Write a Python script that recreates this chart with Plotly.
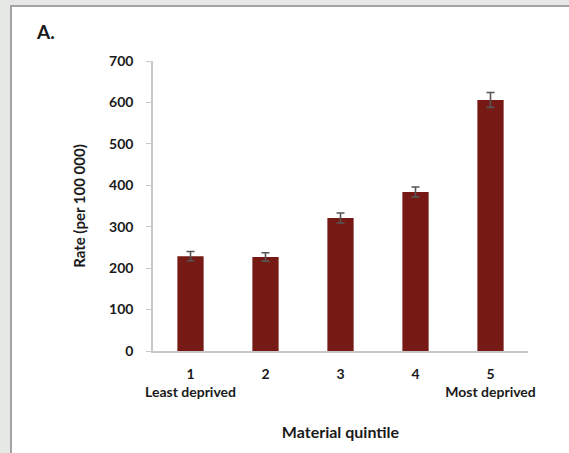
import plotly.graph_objects as go

categories = ["1<br>Least deprived", "2", "3", "4", "5<br>Most deprived"]
rates = [229, 227, 321, 384, 606]
errors = [11, 10, 12, 12, 18]
y_ticks = [0, 100, 200, 300, 400, 500, 600, 700]

W, H = 569, 453
ML, MR, MT, MB = 153, 41, 61, 102
PW, PH = W - ML - MR, H - MT - MB

def px(x):
    return (x - ML) / PW

def py(y):
    return (H - MB - y) / PH

FONT = "Lato, Liberation Sans, Arial"
TXT = "#1a1a1a"

fig = go.Figure()
fig.add_trace(go.Bar(
    x=categories, y=rates,
    marker=dict(color="#771a15", line=dict(width=0)),
    error_y=dict(type="data", array=errors, visible=True, color="#555555", thickness=1.6, width=4),
    width=0.35,
))

shapes = [
    dict(type="rect", xref="paper", yref="paper", x0=px(0), x1=px(10), y0=py(H), y1=py(0),
         fillcolor="#e6e8e6", line=dict(width=0), layer="below"),
    dict(type="rect", xref="paper", yref="paper", x0=px(0), x1=px(W), y0=py(5), y1=py(0),
         fillcolor="#e6e8e6", line=dict(width=0), layer="below"),
    dict(type="rect", xref="paper", yref="paper", x0=px(10), x1=px(12), y0=py(H), y1=py(5),
         fillcolor="#a3a3a3", line=dict(width=0), layer="below"),
    dict(type="rect", xref="paper", yref="paper", x0=px(10), x1=px(W), y0=py(7), y1=py(5),
         fillcolor="#a3a3a3", line=dict(width=0), layer="below"),
]

fig.update_layout(
    width=W, height=H,
    margin=dict(l=ML, r=MR, t=MT, b=MB, autoexpand=False),
    paper_bgcolor="white", plot_bgcolor="white",
    showlegend=False,
    shapes=shapes,
    font=dict(family=FONT, color=TXT, size=14),
    xaxis=dict(
        automargin=False,
        showline=True, linecolor="#c8c8c8", linewidth=1.5,
        ticks="", ticklabelstandoff=9,
        tickfont=dict(family=FONT, size=14, weight="bold", color=TXT),
        title=dict(text="Material quintile", font=dict(family=FONT, size=16, weight="bold", color=TXT), standoff=28),
        showgrid=False, fixedrange=True,
    ),
    yaxis=dict(
        automargin=False,
        range=[0, 700], tickvals=y_ticks, showline=True, linecolor="#c8c8c8", linewidth=1.5,
        ticks="outside", ticklen=5, tickcolor="#c8c8c8", ticklabelstandoff=10,
        tickfont=dict(family=FONT, size=14, weight="bold", color=TXT),
        title=dict(text="Rate (per 100 000)", font=dict(family=FONT, size=15, weight="bold", color=TXT), standoff=20),
        showgrid=False, zeroline=False, fixedrange=True,
    ),
    annotations=[
        dict(text="A.", xref="paper", yref="paper", x=px(34), y=py(32), xanchor="left", yanchor="middle",
             showarrow=False, font=dict(family=FONT, size=19, weight="bold", color=TXT)),
    ],
)

fig.write_html("out.html", config={"displayModeBar": False},
               post_script="document.body.style.margin='0px';document.body.style.overflow='hidden';")
